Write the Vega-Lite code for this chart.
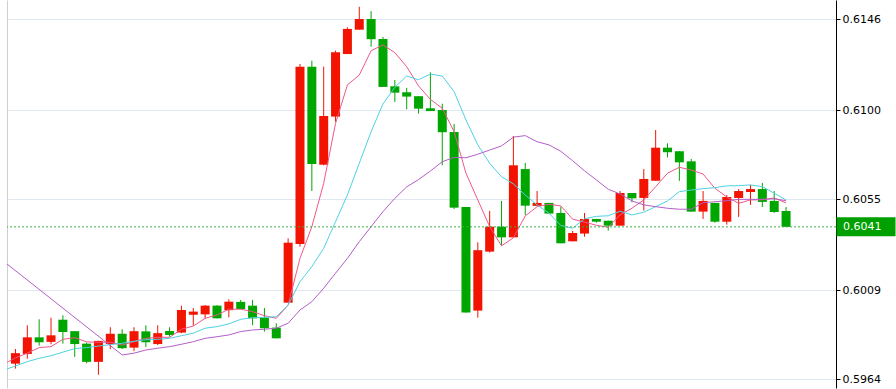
{
"$schema": "https://vega.github.io/schema/vega-lite/v6.json",
"width": 829, "height": 388,
"autosize": {"type": "none"},
"padding": {"left": 7, "top": 0, "right": 60, "bottom": 1},
"background": "white",
"config": {"view": {"stroke": null}},
"datasets": {
"candles": [
{"i":0,"open":0.59719,"high":0.59793,"low":0.59694,"close":0.59772},
{"i":1,"open":0.59768,"high":0.59913,"low":0.59744,"close":0.59852},
{"i":2,"open":0.59852,"high":0.59943,"low":0.59810,"close":0.59827},
{"i":3,"open":0.59829,"high":0.59951,"low":0.59817,"close":0.59862},
{"i":4,"open":0.59941,"high":0.59963,"low":0.59820,"close":0.59879},
{"i":5,"open":0.59883,"high":0.59883,"low":0.59753,"close":0.59818},
{"i":6,"open":0.59820,"high":0.59825,"low":0.59721,"close":0.59728},
{"i":7,"open":0.59728,"high":0.59834,"low":0.59663,"close":0.59834},
{"i":8,"open":0.59818,"high":0.59903,"low":0.59792,"close":0.59870},
{"i":9,"open":0.59870,"high":0.59893,"low":0.59793,"close":0.59797},
{"i":10,"open":0.59800,"high":0.59903,"low":0.59782,"close":0.59883},
{"i":11,"open":0.59882,"high":0.59913,"low":0.59803,"close":0.59827},
{"i":12,"open":0.59818,"high":0.59913,"low":0.59813,"close":0.59873},
{"i":13,"open":0.59884,"high":0.59903,"low":0.59855,"close":0.59864},
{"i":14,"open":0.59876,"high":0.60012,"low":0.59873,"close":0.59990},
{"i":15,"open":0.59966,"high":0.60000,"low":0.59911,"close":0.59982},
{"i":16,"open":0.59968,"high":0.60015,"low":0.59948,"close":0.60012},
{"i":17,"open":0.60012,"high":0.60015,"low":0.59948,"close":0.59948},
{"i":18,"open":0.59989,"high":0.60044,"low":0.59953,"close":0.60032},
{"i":19,"open":0.60031,"high":0.60041,"low":0.59993,"close":0.59995},
{"i":20,"open":0.60012,"high":0.60041,"low":0.59913,"close":0.59948},
{"i":21,"open":0.59951,"high":0.60000,"low":0.59881,"close":0.59898},
{"i":22,"open":0.59901,"high":0.59923,"low":0.59847,"close":0.59847},
{"i":23,"open":0.60027,"high":0.60352,"low":0.60027,"close":0.60330},
{"i":24,"open":0.60324,"high":0.61233,"low":0.60310,"close":0.61219},
{"i":25,"open":0.61219,"high":0.61249,"low":0.60591,"close":0.60728},
{"i":26,"open":0.60724,"high":0.61219,"low":0.60721,"close":0.60970},
{"i":27,"open":0.60967,"high":0.61300,"low":0.60941,"close":0.61292},
{"i":28,"open":0.61283,"high":0.61418,"low":0.61283,"close":0.61410},
{"i":29,"open":0.61406,"high":0.61522,"low":0.61406,"close":0.61460},
{"i":30,"open":0.61460,"high":0.61500,"low":0.61320,"close":0.61358},
{"i":31,"open":0.61359,"high":0.61369,"low":0.61117,"close":0.61117},
{"i":32,"open":0.61120,"high":0.61152,"low":0.61041,"close":0.61088},
{"i":33,"open":0.61090,"high":0.61112,"low":0.61004,"close":0.61068},
{"i":34,"open":0.61070,"high":0.61070,"low":0.60982,"close":0.61007},
{"i":35,"open":0.61009,"high":0.61191,"low":0.60995,"close":0.60995},
{"i":36,"open":0.61000,"high":0.61032,"low":0.60721,"close":0.60888},
{"i":37,"open":0.60889,"high":0.60930,"low":0.60500,"close":0.60507},
{"i":38,"open":0.60510,"high":0.60510,"low":0.59977,"close":0.59977},
{"i":39,"open":0.59987,"high":0.60332,"low":0.59951,"close":0.60292},
{"i":40,"open":0.60285,"high":0.60490,"low":0.60280,"close":0.60411},
{"i":41,"open":0.60411,"high":0.60541,"low":0.60317,"close":0.60357},
{"i":42,"open":0.60357,"high":0.60869,"low":0.60357,"close":0.60721},
{"i":43,"open":0.60702,"high":0.60733,"low":0.60469,"close":0.60517},
{"i":44,"open":0.60516,"high":0.60591,"low":0.60516,"close":0.60531},
{"i":45,"open":0.60531,"high":0.60531,"low":0.60477,"close":0.60477},
{"i":46,"open":0.60480,"high":0.60512,"low":0.60327,"close":0.60327},
{"i":47,"open":0.60337,"high":0.60389,"low":0.60337,"close":0.60379},
{"i":48,"open":0.60376,"high":0.60480,"low":0.60360,"close":0.60450},
{"i":49,"open":0.60450,"high":0.60450,"low":0.60431,"close":0.60436},
{"i":50,"open":0.60441,"high":0.60441,"low":0.60391,"close":0.60416},
{"i":51,"open":0.60416,"high":0.60591,"low":0.60416,"close":0.60581},
{"i":52,"open":0.60581,"high":0.60581,"low":0.60534,"close":0.60554},
{"i":53,"open":0.60556,"high":0.60702,"low":0.60492,"close":0.60652},
{"i":54,"open":0.60643,"high":0.60899,"low":0.60643,"close":0.60810},
{"i":55,"open":0.60810,"high":0.60832,"low":0.60761,"close":0.60787},
{"i":56,"open":0.60792,"high":0.60792,"low":0.60642,"close":0.60736},
{"i":57,"open":0.60741,"high":0.60753,"low":0.60487,"close":0.60487},
{"i":58,"open":0.60487,"high":0.60591,"low":0.60450,"close":0.60541},
{"i":59,"open":0.60531,"high":0.60531,"low":0.60431,"close":0.60436},
{"i":60,"open":0.60436,"high":0.60571,"low":0.60421,"close":0.60561},
{"i":61,"open":0.60556,"high":0.60601,"low":0.60460,"close":0.60591},
{"i":62,"open":0.60586,"high":0.60622,"low":0.60521,"close":0.60601},
{"i":63,"open":0.60601,"high":0.60632,"low":0.60510,"close":0.60536},
{"i":64,"open":0.60541,"high":0.60591,"low":0.60480,"close":0.60485},
{"i":65,"open":0.60490,"high":0.60510,"low":0.60410,"close":0.60410}
],
"ma": [
{"s":"a","i":-1,"v":0.59717},{"s":"a","i":0,"v":0.59748},{"s":"a","i":1,"v":0.59772},{"s":"a","i":2,"v":0.59800},{"s":"a","i":3,"v":0.59805},{"s":"a","i":4,"v":0.59842},{"s":"a","i":5,"v":0.59850},{"s":"a","i":6,"v":0.59829},{"s":"a","i":7,"v":0.59827},{"s":"a","i":8,"v":0.59827},{"s":"a","i":9,"v":0.59813},{"s":"a","i":10,"v":0.59830},{"s":"a","i":11,"v":0.59847},{"s":"a","i":12,"v":0.59852},{"s":"a","i":13,"v":0.59852},{"s":"a","i":14,"v":0.59893},{"s":"a","i":15,"v":0.59909},{"s":"a","i":16,"v":0.59948},{"s":"a","i":17,"v":0.59965},{"s":"a","i":18,"v":0.59994},{"s":"a","i":19,"v":0.59994},{"s":"a","i":20,"v":0.59982},{"s":"a","i":21,"v":0.59961},{"s":"a","i":22,"v":0.59948},{"s":"a","i":23,"v":0.60015},{"s":"a","i":24,"v":0.60251},{"s":"a","i":25,"v":0.60411},{"s":"a","i":26,"v":0.60630},{"s":"a","i":27,"v":0.60933},{"s":"a","i":28,"v":0.61127},{"s":"a","i":29,"v":0.61177},{"s":"a","i":30,"v":0.61300},{"s":"a","i":31,"v":0.61329},{"s":"a","i":32,"v":0.61290},{"s":"a","i":33,"v":0.61219},{"s":"a","i":34,"v":0.61122},{"s":"a","i":35,"v":0.61054},{"s":"a","i":36,"v":0.61009},{"s":"a","i":37,"v":0.60891},{"s":"a","i":38,"v":0.60681},{"s":"a","i":39,"v":0.60546},{"s":"a","i":40,"v":0.60411},{"s":"a","i":41,"v":0.60314},{"s":"a","i":42,"v":0.60355},{"s":"a","i":43,"v":0.60465},{"s":"a","i":44,"v":0.60512},{"s":"a","i":45,"v":0.60524},{"s":"a","i":46,"v":0.60516},{"s":"a","i":47,"v":0.60449},{"s":"a","i":48,"v":0.60434},{"s":"a","i":49,"v":0.60418},{"s":"a","i":50,"v":0.60408},{"s":"a","i":51,"v":0.60470},{"s":"a","i":52,"v":0.60504},{"s":"a","i":53,"v":0.60546},{"s":"a","i":54,"v":0.60613},{"s":"a","i":55,"v":0.60681},{"s":"a","i":56,"v":0.60711},{"s":"a","i":57,"v":0.60697},{"s":"a","i":58,"v":0.60677},{"s":"a","i":59,"v":0.60605},{"s":"a","i":60,"v":0.60561},{"s":"a","i":61,"v":0.60529},{"s":"a","i":62,"v":0.60546},{"s":"a","i":63,"v":0.60547},{"s":"a","i":64,"v":0.60556},{"s":"a","i":65,"v":0.60531},
{"s":"b","i":-1,"v":0.59686},{"s":"b","i":0,"v":0.59707},{"s":"b","i":1,"v":0.59729},{"s":"b","i":2,"v":0.59746},{"s":"b","i":3,"v":0.59759},{"s":"b","i":4,"v":0.59777},{"s":"b","i":5,"v":0.59795},{"s":"b","i":6,"v":0.59800},{"s":"b","i":7,"v":0.59808},{"s":"b","i":8,"v":0.59815},{"s":"b","i":9,"v":0.59822},{"s":"b","i":10,"v":0.59832},{"s":"b","i":11,"v":0.59840},{"s":"b","i":12,"v":0.59842},{"s":"b","i":13,"v":0.59847},{"s":"b","i":14,"v":0.59860},{"s":"b","i":15,"v":0.59873},{"s":"b","i":16,"v":0.59898},{"s":"b","i":17,"v":0.59906},{"s":"b","i":18,"v":0.59920},{"s":"b","i":19,"v":0.59943},{"s":"b","i":20,"v":0.59951},{"s":"b","i":21,"v":0.59953},{"s":"b","i":22,"v":0.59956},{"s":"b","i":23,"v":0.60015},{"s":"b","i":24,"v":0.60133},{"s":"b","i":25,"v":0.60209},{"s":"b","i":26,"v":0.60302},{"s":"b","i":27,"v":0.60436},{"s":"b","i":28,"v":0.60571},{"s":"b","i":29,"v":0.60731},{"s":"b","i":30,"v":0.60891},{"s":"b","i":31,"v":0.61031},{"s":"b","i":32,"v":0.61115},{"s":"b","i":33,"v":0.61172},{"s":"b","i":34,"v":0.61153},{"s":"b","i":35,"v":0.61182},{"s":"b","i":36,"v":0.61172},{"s":"b","i":37,"v":0.61093},{"s":"b","i":38,"v":0.60950},{"s":"b","i":39,"v":0.60824},{"s":"b","i":40,"v":0.60731},{"s":"b","i":41,"v":0.60663},{"s":"b","i":42,"v":0.60627},{"s":"b","i":43,"v":0.60571},{"s":"b","i":44,"v":0.60521},{"s":"b","i":45,"v":0.60479},{"s":"b","i":46,"v":0.60417},{"s":"b","i":47,"v":0.60403},{"s":"b","i":48,"v":0.60451},{"s":"b","i":49,"v":0.60463},{"s":"b","i":50,"v":0.60466},{"s":"b","i":51,"v":0.60489},{"s":"b","i":52,"v":0.60470},{"s":"b","i":53,"v":0.60484},{"s":"b","i":54,"v":0.60512},{"s":"b","i":55,"v":0.60541},{"s":"b","i":56,"v":0.60588},{"s":"b","i":57,"v":0.60596},{"s":"b","i":58,"v":0.60603},{"s":"b","i":59,"v":0.60608},{"s":"b","i":60,"v":0.60617},{"s":"b","i":61,"v":0.60618},{"s":"b","i":62,"v":0.60622},{"s":"b","i":63,"v":0.60613},{"s":"b","i":64,"v":0.60580},{"s":"b","i":65,"v":0.60546},
{"s":"c","i":-1,"v":0.60236},{"s":"c","i":9,"v":0.59763},{"s":"c","i":10,"v":0.59772},{"s":"c","i":11,"v":0.59788},{"s":"c","i":12,"v":0.59797},{"s":"c","i":13,"v":0.59805},{"s":"c","i":14,"v":0.59817},{"s":"c","i":15,"v":0.59830},{"s":"c","i":16,"v":0.59847},{"s":"c","i":17,"v":0.59855},{"s":"c","i":18,"v":0.59864},{"s":"c","i":19,"v":0.59881},{"s":"c","i":20,"v":0.59889},{"s":"c","i":21,"v":0.59893},{"s":"c","i":22,"v":0.59898},{"s":"c","i":23,"v":0.59923},{"s":"c","i":24,"v":0.59990},{"s":"c","i":25,"v":0.60032},{"s":"c","i":26,"v":0.60100},{"s":"c","i":27,"v":0.60176},{"s":"c","i":28,"v":0.60251},{"s":"c","i":29,"v":0.60335},{"s":"c","i":30,"v":0.60411},{"s":"c","i":31,"v":0.60487},{"s":"c","i":32,"v":0.60554},{"s":"c","i":33,"v":0.60612},{"s":"c","i":34,"v":0.60649},{"s":"c","i":35,"v":0.60692},{"s":"c","i":36,"v":0.60739},{"s":"c","i":37,"v":0.60761},{"s":"c","i":38,"v":0.60759},{"s":"c","i":39,"v":0.60777},{"s":"c","i":40,"v":0.60798},{"s":"c","i":41,"v":0.60819},{"s":"c","i":42,"v":0.60863},{"s":"c","i":43,"v":0.60871},{"s":"c","i":44,"v":0.60840},{"s":"c","i":45,"v":0.60824},{"s":"c","i":46,"v":0.60792},{"s":"c","i":47,"v":0.60744},{"s":"c","i":48,"v":0.60693},{"s":"c","i":49,"v":0.60647},{"s":"c","i":50,"v":0.60600},{"s":"c","i":51,"v":0.60576},{"s":"c","i":52,"v":0.60541},{"s":"c","i":53,"v":0.60521},{"s":"c","i":54,"v":0.60512},{"s":"c","i":55,"v":0.60504},{"s":"c","i":56,"v":0.60499},{"s":"c","i":57,"v":0.60499},{"s":"c","i":58,"v":0.60532},{"s":"c","i":59,"v":0.60537},{"s":"c","i":60,"v":0.60542},{"s":"c","i":61,"v":0.60549},{"s":"c","i":62,"v":0.60549},{"s":"c","i":63,"v":0.60549},{"s":"c","i":64,"v":0.60552},{"s":"c","i":65,"v":0.60542}
],
"last": [{"price": 0.6041, "label": "0.6041"}]
},
"resolve": {"axis": {"y": "independent"}},
"layer": [
{"data": {"name": "candles"},
 "mark": {"type": "rule", "clip": true, "strokeWidth": 1},
 "encoding": {
  "x": {"field": "i", "type": "quantitative", "scale": {"domain": [-0.2917, 68.79], "nice": false, "zero": false},
        "axis": {"values": [4,10,16,22,28,34,40,46,52,58,64], "grid": true, "gridColor": "#dfe8f1", "labels": false, "ticks": false, "domain": true, "domainColor": "#000000", "domainWidth": 1, "title": null}},
  "y": {"field": "low", "type": "quantitative", "scale": {"domain": [0.59596, 0.61556], "nice": false, "zero": false},
        "axis": {"orient": "right", "values": [0.5964, 0.6009, 0.6055, 0.61, 0.6146], "format": ".4f", "grid": true, "gridColor": "#dfe8f1", "domainColor": "#000000", "tickColor": "#000000", "tickSize": 4, "labelFont": "DejaVu Sans", "labelFontSize": 11, "labelColor": "#000000", "labelPadding": 2, "title": null}},
  "y2": {"field": "high"},
  "color": {"condition": {"test": "datum.close >= datum.open", "value": "#f21300"}, "value": "#00a600"}
 }},
{"data": {"name": "candles"},
 "mark": {"type": "bar", "width": 9, "clip": true},
 "encoding": {
  "x": {"field": "i", "type": "quantitative", "scale": {"domain": [-0.2917, 68.79], "nice": false, "zero": false}, "axis": null},
  "y": {"field": "open", "type": "quantitative", "scale": {"domain": [0.59596, 0.61556], "nice": false, "zero": false},
        "axis": {"orient": "left", "labels": false, "ticks": false, "grid": false, "domainColor": "#cfcfcf", "title": null}},
  "y2": {"field": "close"},
  "color": {"condition": {"test": "datum.close >= datum.open", "value": "#f21300"}, "value": "#00a600"}
 }},
{"data": {"name": "ma"},
 "mark": {"type": "line", "clip": true, "strokeWidth": 1},
 "encoding": {
  "x": {"field": "i", "type": "quantitative", "scale": {"domain": [-0.2917, 68.79], "nice": false, "zero": false}, "axis": null},
  "y": {"field": "v", "type": "quantitative", "scale": {"domain": [0.59596, 0.61556], "nice": false, "zero": false}, "axis": null},
  "color": {"field": "s", "type": "nominal", "scale": {"domain": ["a", "b", "c"], "range": ["#f0578a", "#4fd2e2", "#b45ec8"]}, "legend": null}
 }},
{"data": {"name": "last"},
 "mark": {"type": "rule", "strokeDash": [2, 2], "strokeWidth": 1, "color": "#3cb043"},
 "encoding": {
  "y": {"field": "price", "type": "quantitative", "scale": {"domain": [0.59596, 0.61556], "nice": false, "zero": false}, "axis": null}
 }},
{"data": {"name": "last"},
 "mark": {"type": "tick", "orient": "horizontal", "size": 59, "thickness": 19, "color": "#00a000", "opacity": 1, "xOffset": 30, "clip": false},
 "encoding": {
  "x": {"value": "width"},
  "y": {"field": "price", "type": "quantitative", "scale": {"domain": [0.59596, 0.61556], "nice": false, "zero": false}, "axis": null}
 }},
{"data": {"name": "last"},
 "mark": {"type": "text", "align": "left", "baseline": "middle", "dx": 7, "color": "#ffffff", "font": "DejaVu Sans", "fontSize": 11},
 "encoding": {
  "x": {"value": "width"},
  "y": {"field": "price", "type": "quantitative", "scale": {"domain": [0.59596, 0.61556], "nice": false, "zero": false}, "axis": null},
  "text": {"field": "label"}
 }}
]
}
